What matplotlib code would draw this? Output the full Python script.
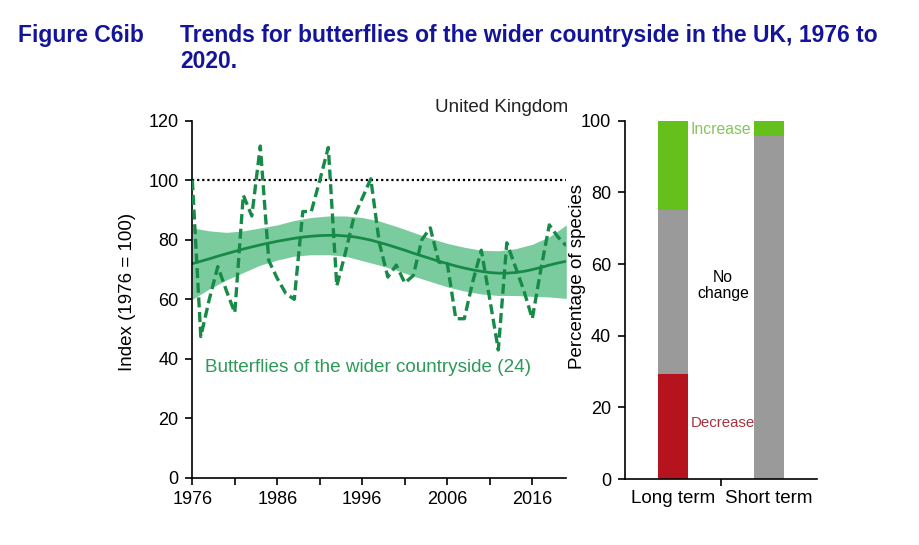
import numpy as np
import matplotlib
matplotlib.use("Agg")
import matplotlib.pyplot as plt

plt.rcParams['font.family'] = ['Liberation Sans', 'DejaVu Sans']

# ---- data ----
years = list(range(1976, 2021))
index_values = [100, 47.5, 60, 71, 63, 55.5, 95, 88, 111.5, 73,
                67, 62, 60, 89.5, 89.5, 100, 111, 64.5, 75.5, 87.5,
                94, 100.5, 79, 67.5, 71.5, 65.5, 68, 80, 84, 72.5,
                72, 53.5, 53.5, 66, 76.5, 60, 43, 79, 71, 63,
                53.5, 70, 85, 81, 78]
trend_values = [72.0, 72.8, 73.6, 74.5, 75.3, 76.1, 76.9, 77.6, 78.3, 78.9,
                79.5, 80.0, 80.5, 80.9, 81.2, 81.4, 81.5, 81.5, 81.3, 81.0,
                80.5, 79.9, 79.1, 78.3, 77.4, 76.5, 75.5, 74.6, 73.7, 72.8,
                72.0, 71.2, 70.5, 69.9, 69.4, 69.0, 68.8, 68.8, 69.0, 69.4,
                70.0, 70.7, 71.5, 72.2, 72.8]
band_years = list(range(1976, 2021, 2))
band_upper = [84, 83, 82.5, 83, 84, 85, 86.5, 87.5, 88, 88, 87.5, 86.3,
              84.5, 82.5, 80.5, 78.8, 77.5, 76.5, 76.3, 77, 78.5, 81, 85]
band_lower = [60, 63.5, 66.5, 69, 71.5, 73.2, 74.5, 75, 75, 74.5, 73, 71.5,
              69.8, 67.8, 66, 64.2, 62.8, 61.8, 61.3, 61.3, 61, 60.8, 60.3]
baseline = 100

terms = ["Long term", "Short term"]
pct_decrease = [29.2, 0.0]
pct_nochange = [45.8, 95.8]
pct_increase = [25.0, 4.2]

x_ticks = [1976, 1986, 1996, 2006, 2016]
y_ticks_left = [0, 20, 40, 60, 80, 100, 120]
y_ticks_right = [0, 20, 40, 60, 80, 100]

# ---- styles ----
W, H = 920, 545
fig = plt.figure(figsize=(W / 100, H / 100), dpi=100)
fig.patch.set_facecolor('white')

title_col = '#14149a'
green_dark = '#188a48'
green_band = '#6cc794'
TFS = 16.5

fig.text(18 / W, 1 - 35 / H, "Figure C6ib", color=title_col, fontsize=TFS,
         fontweight='bold', va='center', ha='left')
fig.text(180 / W, 1 - 35 / H, "Trends for butterflies of the wider countryside in the UK, 1976 to",
         color=title_col, fontsize=TFS, fontweight='bold', va='center', ha='left')
fig.text(180 / W, 1 - 62 / H, "2020.", color=title_col, fontsize=TFS,
         fontweight='bold', va='center', ha='left')

# ---- left chart ----
ax = fig.add_axes([192.3 / W, 1 - 478 / H, 374 / W, (478 - 120.7) / H])
ax.fill_between(band_years, band_lower, band_upper, color=green_band, alpha=0.9,
                linewidth=0, zorder=1)
ax.plot(years, trend_values, color=green_dark, lw=2.0, zorder=2)
ax.plot(years, index_values, color=green_dark, lw=2.4, ls=(0, (3, 1.4)), zorder=3)
ax.plot([years[0], years[-1]], [baseline, baseline], color='black', lw=1.6,
        ls=(0, (1, 1.3)), zorder=2)

ax.set_xlim(1976, 2020)
ax.set_ylim(0, 120)
ax.set_xticks(x_ticks)
ax.set_xticks(list(range(1981, 2020, 10)), minor=True)
ax.set_yticks(y_ticks_left)
for s in ['top', 'right']:
    ax.spines[s].set_visible(False)
for s in ['left', 'bottom']:
    ax.spines[s].set_linewidth(1.2)
ax.tick_params(axis='both', which='both', direction='out', length=5, width=1.2,
               labelsize=13, colors='black')
ax.tick_params(axis='x', pad=4)
ax.tick_params(axis='y', pad=5)
ax.set_ylabel("Index (1976 = 100)", fontsize=13.5)
ax.yaxis.set_label_coords(-0.15, 0.52)
ax.text(1977.5, 37, "Butterflies of the wider countryside (24)", color='#2c9a58',
        fontsize=13.6, va='center', ha='left')
fig.text(502 / W, 1 - 108 / H, "United Kingdom", fontsize=13.5, ha='center',
         va='center', color='#222222')

# ---- right chart ----
ax2 = fig.add_axes([625 / W, 1 - 479 / H, 192 / W, (479 - 120.7) / H])
xpos = np.arange(len(terms))
bw = 0.31
ax2.bar(xpos, pct_decrease, width=bw, color='#b5141f', linewidth=0)
ax2.bar(xpos, pct_nochange, width=bw, bottom=pct_decrease, color='#9a9a9a', linewidth=0)
ax2.bar(xpos, pct_increase, width=bw,
        bottom=[a + b for a, b in zip(pct_decrease, pct_nochange)],
        color='#66c01c', linewidth=0)
ax2.set_xlim(-0.5, 1.5)
ax2.set_ylim(0, 100)
ax2.set_yticks(y_ticks_right)
ax2.set_xticks(xpos)
ax2.set_xticklabels(terms)
ax2.set_xticks([0.5], minor=True)
for s in ['top', 'right']:
    ax2.spines[s].set_visible(False)
for s in ['left', 'bottom']:
    ax2.spines[s].set_linewidth(1.2)
ax2.tick_params(axis='y', direction='out', length=5, width=1.2, labelsize=13, pad=5)
ax2.tick_params(axis='x', which='major', length=0, labelsize=13.5, pad=8)
ax2.tick_params(axis='x', which='minor', direction='out', length=5, width=1.2)
ax2.set_ylabel("Percentage of species", fontsize=13.5)
ax2.yaxis.set_label_coords(-0.205, 0.564)

ax2.text(0.18, 97.5, "Increase", color='#86c65a', fontsize=11.3, ha='left', va='center')
ax2.text(0.52, 54, "No\nchange", color='black', fontsize=11.3, ha='center',
         va='center', linespacing=1.15)
ax2.text(0.18, 15.7, "Decrease", color='#a8323f', fontsize=10.8, ha='left', va='center')

fig.savefig("out.png", dpi=100, facecolor='white')
